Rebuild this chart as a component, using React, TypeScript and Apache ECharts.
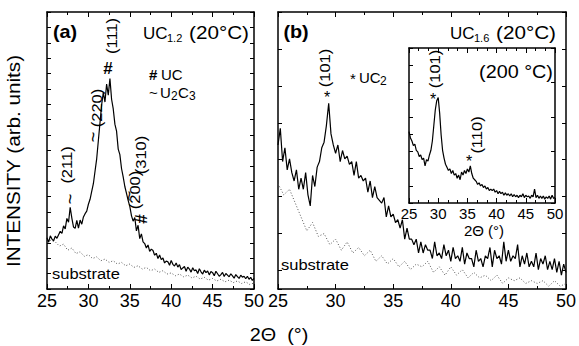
import React, { useEffect, useRef } from "react";
import * as echarts from "echarts";

// 2θ scan grids (start, step)
const SCAN_START = 25;
const STEP_FINE = 0.2;
const STEP_COARSE = 0.5;
const STEP_INSET = 0.25;

// Panel (a): UC1.2 (20°C) sample intensity, 25.0 .. 50.0 step 0.2
const A_SAMPLE = [
  18.5, 16.9, 19.2, 18.0, 17.4, 19.1, 18.3, 19.6, 20.8, 20.1,
  22.8, 21.7, 25.5, 24.1, 29.5, 25.6, 22.4, 21.9, 24.8, 22.0,
  24.9, 23.4, 26.0, 27.2, 28.1, 30.6, 32.4, 35.2, 38.0, 42.5,
  47.0, 53.5, 60.0, 66.5, 71.0, 67.5, 74.0, 70.0, 76.0, 68.5,
  65.0, 59.5, 57.0, 50.5, 48.5, 43.5, 40.5, 37.0, 34.5, 32.0,
  29.8, 26.5, 24.5, 25.8, 21.0, 23.0, 18.2, 19.9, 17.0, 16.4,
  14.8, 15.9, 13.6, 14.4, 13.9, 12.2, 12.9, 11.0, 12.3, 10.6,
  11.2, 9.4, 10.1, 9.8, 8.6, 10.3, 8.9, 8.3, 9.4, 7.9,
  8.8, 7.0, 7.6, 8.1, 6.4, 7.9, 7.2, 6.1, 7.7, 6.6,
  6.9, 5.6, 7.3, 6.2, 5.4, 6.8, 5.9, 6.5, 5.1, 6.3,
  5.9, 4.8, 6.4, 5.5, 4.6, 5.2, 6.0, 4.5, 5.6, 5.0,
  4.4, 5.5, 4.7, 3.9, 5.2, 4.5, 3.8, 5.0, 4.3, 4.6,
  3.7, 4.6, 3.5, 4.2, 3.1, 3.8,
];

// Panel (a): substrate, 25.0 .. 50.0 step 0.5
const A_SUBSTRATE = [
  18.0, 17.5, 17.0, 15.5, 16.2, 14.0, 14.8, 12.8, 13.4, 11.8,
  12.4, 11.0, 11.6, 10.2, 10.8, 9.6, 10.2, 9.0, 9.6, 8.4,
  9.0, 7.8, 8.4, 7.2, 7.8, 6.6, 7.2, 6.0, 6.6, 5.4,
  5.8, 4.8, 5.4, 4.4, 5.0, 4.0, 4.6, 3.6, 4.2, 3.2,
  3.8, 2.9, 3.5, 2.6, 3.2, 2.3, 2.9, 2.0, 2.6, 1.6,
  2.2,
];

// Panel (b): UC1.6 (20°C) sample intensity, 25.0 .. 50.0 step 0.2
const B_SAMPLE = [
  52, 58, 46, 51, 43, 47, 42, 39, 43, 36,
  40, 36, 42, 34, 30, 41, 37, 44, 46, 51,
  53, 59, 67, 56, 52, 49, 52, 46, 50, 47,
  48, 45, 46, 41, 46, 40, 41, 39, 40, 35,
  39, 33, 37, 33, 32, 31, 33, 26, 30, 26,
  27, 24, 25, 22, 25, 18, 22, 18, 18, 16,
  18, 13, 17, 13, 16, 14, 14, 11, 17, 12,
  13, 11, 16, 12, 14, 10, 15, 11, 12, 10,
  15, 9, 13, 11, 11, 8, 14, 10, 11, 8,
  12, 11, 15, 8, 14, 11, 12, 9, 17, 10,
  14, 10, 12, 11, 16, 8, 12, 9, 13, 8,
  10, 8, 13, 7, 11, 9, 12, 7, 10, 7,
  11, 6, 10, 5, 9, 6,
];

// Panel (b): substrate, 25.0 .. 50.0 step 0.5
const B_SUBSTRATE = [
  38, 34, 36, 31, 26, 21, 24, 19, 20, 16,
  18, 14, 17, 13, 15, 12, 14, 10, 12, 9,
  11, 8, 10, 7, 9, 8, 10, 6, 8, 5,
  8, 5, 7, 4, 6, 4, 5, 3, 5, 2,
  4, 3, 4, 2, 3, 2, 3, 1, 3, 1,
  2,
];

// Inset: UC1.6 at 200 °C, 25.00 .. 50.00 step 0.25
const INSET_SAMPLE = [
  46, 42, 40, 37, 38, 34, 33, 30, 31, 28,
  29, 24, 28, 27, 31, 34, 40, 50, 60, 66,
  68, 58, 44, 34, 29, 25, 23, 21, 22, 19,
  21, 18, 19, 16, 18, 15, 20, 18, 21, 19,
  22, 20, 24, 19, 16, 15, 14, 12, 13, 11,
  12, 10, 11, 9, 10, 8, 9, 8, 9, 7,
  8, 6, 7.5, 6, 7, 5, 6.5, 5, 6, 4.5,
  6, 4, 5.5, 4, 5, 3.5, 5, 4, 6, 3.5,
  5, 4, 4.5, 3, 5, 4, 9, 3.5, 5, 3,
  4.5, 3, 4.5, 2.5, 4, 3, 4.5, 2.5, 5, 3,
  3.5,
];

const X_MIN = 25;
const X_MAX = 50;
const X_INTERVAL = 5;

const FONT = "'Liberation Sans', Arial, Helvetica, sans-serif";

function toPairs(values: number[], start: number, step: number) {
  return values.map((v, i) => [Math.round((start + i * step) * 100) / 100, v]);
}

function xAx(gridIndex: number, position: string, showLabel: boolean, labelSize: number, minorSplit: number) {
  return {
    type: "value",
    gridIndex,
    position,
    min: X_MIN,
    max: X_MAX,
    interval: X_INTERVAL,
    axisLine: { show: true, onZero: false, lineStyle: { color: "#000", width: 1.5 } },
    axisTick: { show: true, inside: true, length: 5, lineStyle: { color: "#000", width: 1 } },
    minorTick: { show: true, splitNumber: minorSplit, length: 3, lineStyle: { color: "#000", width: 1 } },
    axisLabel: { show: showLabel, fontSize: labelSize, color: "#000", fontFamily: FONT, margin: 3 },
    splitLine: { show: false },
    minorSplitLine: { show: false },
  };
}

function yTickAx(gridIndex: number, position: string, max: number, interval: number) {
  return {
    type: "value",
    gridIndex,
    position,
    inverse: true,
    min: 0,
    max,
    interval,
    axisLine: { show: true, onZero: false, lineStyle: { color: "#000", width: 1.5 } },
    axisTick: { show: true, inside: true, length: 4, lineStyle: { color: "#000", width: 1 } },
    axisLabel: { show: false },
    splitLine: { show: false },
  };
}

function yDataAx(gridIndex: number) {
  return { type: "value", gridIndex, min: 0, max: 100, show: false, splitLine: { show: false } };
}

type TOpts = { rot?: number; sx?: number; bold?: boolean; align?: string };
function txt(text: string, x: number, y: number, size: number, o: TOpts = {}) {
  const align = o.align || "center";
  return {
    type: "text",
    x,
    y,
    rotation: o.rot || 0,
    scaleX: o.sx || 1,
    z: 100,
    style: {
      text,
      fill: "#000",
      font: `${o.bold ? "bold " : ""}${size}px ${FONT}`,
      fontSize: size,
      fontFamily: FONT,
      fontWeight: o.bold ? "bold" : "normal",
      align,
      textAlign: align,
      verticalAlign: "middle",
      textVerticalAlign: "middle",
    },
  };
}

const ROT = Math.PI / 2;

export default function App() {
  const ref = useRef<HTMLDivElement>(null);
  useEffect(() => {
    if (!ref.current) return;
    const chart = echarts.init(ref.current, undefined, { renderer: "svg" });
    const lineBlack = { color: "#000", width: 1.2 };
    const lineDot = { color: "#555", width: 1, type: [1, 2] };
    const option: any = {
      animation: false,
      backgroundColor: "#fff",
      grid: [
        { left: 47, top: 12, width: 207, height: 277, containLabel: false, outerBoundsMode: "none" },
        { left: 278, top: 12, width: 288, height: 277, containLabel: false, outerBoundsMode: "none" },
        {
          left: 409, top: 48, width: 146, height: 155, containLabel: false, outerBoundsMode: "none",
          show: true, backgroundColor: "#fff", borderWidth: 0,
        },
      ],
      xAxis: [
        xAx(0, "bottom", true, 18, 2),
        xAx(0, "top", false, 18, 2),
        xAx(1, "bottom", true, 18, 2),
        xAx(1, "top", false, 18, 2),
        xAx(2, "bottom", true, 15, 3),
        xAx(2, "top", false, 15, 3),
      ],
      yAxis: [
        yDataAx(0),
        yTickAx(0, "left", 18, 1),
        yTickAx(0, "right", 18, 1),
        yDataAx(1),
        yTickAx(1, "left", 7.5, 1),
        yTickAx(1, "right", 7.5, 1),
        yDataAx(2),
        yTickAx(2, "left", 9, 1),
        yTickAx(2, "right", 9, 2),
      ],
      series: [
        {
          type: "line", xAxisIndex: 0, yAxisIndex: 0, showSymbol: false, silent: true, z: 2,
          data: toPairs(A_SUBSTRATE, SCAN_START, STEP_COARSE), lineStyle: lineDot,
        },
        {
          type: "line", xAxisIndex: 0, yAxisIndex: 0, showSymbol: false, silent: true, z: 3,
          data: toPairs(A_SAMPLE, SCAN_START, STEP_FINE), lineStyle: lineBlack,
        },
        {
          type: "line", xAxisIndex: 2, yAxisIndex: 3, showSymbol: false, silent: true, z: 2,
          data: toPairs(B_SUBSTRATE, SCAN_START, STEP_COARSE), lineStyle: lineDot,
        },
        {
          type: "line", xAxisIndex: 2, yAxisIndex: 3, showSymbol: false, silent: true, z: 3,
          data: toPairs(B_SAMPLE, SCAN_START, STEP_FINE), lineStyle: lineBlack,
        },
        {
          type: "line", xAxisIndex: 4, yAxisIndex: 6, showSymbol: false, silent: true, z: 5,
          data: toPairs(INSET_SAMPLE, SCAN_START, STEP_INSET), lineStyle: lineBlack,
        },
      ],
      graphic: {
        elements: [
          txt("INTENSITY (arb. units)", 14, 161, 18, { rot: ROT, sx: 1.15 }),
          txt("2Θ  (°)", 279, 335, 18, { sx: 1.1 }),
          // panel (a)
          txt("(a)", 65, 32, 18, { bold: true, sx: 1.1 }),
          txt("UC", 143, 33, 17, { align: "left" }),
          txt("1.2", 167, 38, 11, { align: "left" }),
          txt("(20°C)", 249, 33, 18, { align: "right", sx: 1.15 }),
          txt("#", 149, 74, 15, { align: "left", bold: true }),
          txt("UC", 161, 74, 15, { align: "left" }),
          txt("~", 149, 92, 15, { align: "left" }),
          txt("U", 160, 92, 15, { align: "left" }),
          txt("2", 171, 96, 12, { align: "left" }),
          txt("C", 178, 92, 15, { align: "left" }),
          txt("3", 189, 96, 12, { align: "left" }),
          txt("(211)", 67, 165, 15, { rot: ROT, sx: 1.1 }),
          txt("~", 70, 199, 18, { rot: ROT }),
          txt("(220)", 97, 108, 15, { rot: ROT, sx: 1.1 }),
          txt("~", 93, 137, 18, { rot: ROT }),
          txt("(111)", 112, 36, 15, { rot: ROT, sx: 1.1 }),
          txt("#", 108, 68, 17, { bold: true }),
          txt("(310)", 141, 155, 15, { rot: ROT, sx: 1.1 }),
          txt("(200)", 135, 190, 15, { rot: ROT, sx: 1.1 }),
          txt("~", 129, 196, 18, { rot: ROT }),
          txt("#", 141, 219, 17, { bold: true, rot: ROT }),
          txt("substrate", 52, 274, 15, { align: "left", sx: 1.1 }),
          // panel (b)
          txt("(b)", 296, 32, 18, { bold: true, sx: 1.1 }),
          txt("UC", 450, 33, 17, { align: "left" }),
          txt("1.6", 474, 38, 11, { align: "left" }),
          txt("(20°C)", 556, 33, 18, { align: "right", sx: 1.15 }),
          txt("(101)", 325, 68, 15, { rot: ROT, sx: 1.1 }),
          txt("*", 327, 97, 16),
          txt("*", 353, 78, 15),
          txt("UC", 359, 77, 15, { align: "left" }),
          txt("2", 380, 81, 12, { align: "left" }),
          txt("substrate", 281, 265, 15, { align: "left", sx: 1.1 }),
          // inset
          txt("(200 °C)", 516, 72, 18, { sx: 1.1 }),
          txt("(101)", 435, 69, 15, { rot: ROT, sx: 1.1 }),
          txt("*", 433, 99, 16),
          txt("(110)", 477, 135, 15, { rot: ROT, sx: 1.1 }),
          txt("*", 469, 161, 16),
          txt("2Θ (°)", 484, 230, 15),
        ],
      },
    };
    chart.setOption(option);
    return () => chart.dispose();
  }, []);
  return (
    <div
      ref={ref}
      style={{ position: "absolute", left: 0, top: 0, width: 579, height: 346, background: "#fff" }}
    />
  );
}
